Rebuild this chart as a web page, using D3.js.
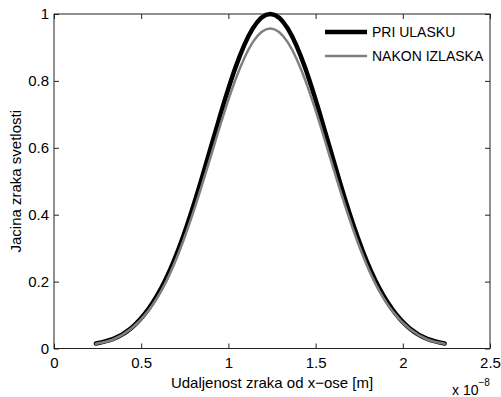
<!DOCTYPE html>
<html>
<head>
<meta charset="utf-8">
<script src="https://cdn.jsdelivr.net/npm/d3@7"></script>
<style>
  body { margin: 0; background: #fff; }
  svg { display: block; font-family: "Liberation Sans", Arial, sans-serif; }
</style>
</head>
<body>
<div id="chart"></div>
<script>
// Data (x in units of 1e-8 m)
const xValues = [0.24, 0.34, 0.44, 0.54, 0.64, 0.74, 0.84, 0.94, 1.04, 1.14, 1.24,
                 1.34, 1.44, 1.54, 1.64, 1.74, 1.84, 1.94, 2.04, 2.14, 2.24];
const entering = [0.015, 0.029, 0.060, 0.117, 0.206, 0.334, 0.496, 0.674, 0.839, 0.957, 1.0,
                  0.957, 0.839, 0.674, 0.496, 0.334, 0.206, 0.117, 0.060, 0.029, 0.015];
const exiting = [0.014, 0.027, 0.058, 0.112, 0.197, 0.320, 0.474, 0.645, 0.803, 0.916, 0.957,
                 0.916, 0.803, 0.645, 0.474, 0.320, 0.197, 0.112, 0.058, 0.027, 0.014];
const seriesNames = ["PRI ULASKU", "NAKON IZLASKA"];
const xTicks = [0, 0.5, 1, 1.5, 2, 2.5];
const yTicks = [0, 0.2, 0.4, 0.6, 0.8, 1];

const W = 501, H = 397;
const margin = { top: 14, right: 11, bottom: 48.5, left: 54 };
const width = W - margin.left - margin.right;
const height = H - margin.top - margin.bottom;

const svg = d3.select("#chart").append("svg")
  .attr("width", W)
  .attr("height", H);

const g = svg.append("g")
  .attr("transform", `translate(${margin.left},${margin.top})`);

const x = d3.scaleLinear().domain([0, 2.5]).range([0, width]);
const y = d3.scaleLinear().domain([0, 1]).range([height, 0]);

// Axes (ticks point inward, box on all sides)
const fmt = d => String(d);
const axisStyle = sel => {
  sel.select(".domain").remove();
  sel.selectAll("line").attr("stroke", "#222");
};

g.append("g")
  .attr("transform", `translate(0,${height})`)
  .call(d3.axisBottom(x).tickValues(xTicks).tickFormat(fmt).tickSizeInner(-5).tickPadding(9))
  .call(axisStyle)
  .selectAll("text").attr("font-size", 15).attr("fill", "#000").attr("font-family", null);

g.append("g")
  .call(d3.axisLeft(y).tickValues(yTicks).tickFormat(fmt).tickSizeInner(-5).tickPadding(5))
  .call(axisStyle)
  .selectAll("text").attr("font-size", 15).attr("fill", "#000").attr("font-family", null);

g.append("g")
  .call(d3.axisTop(x).tickValues(xTicks).tickFormat("").tickSizeInner(-5))
  .call(axisStyle);

g.append("g")
  .attr("transform", `translate(${width},0)`)
  .call(d3.axisRight(y).tickValues(yTicks).tickFormat("").tickSizeInner(-5))
  .call(axisStyle);

g.append("rect")
  .attr("width", width)
  .attr("height", height)
  .attr("fill", "none")
  .attr("stroke", "#222")
  .attr("stroke-width", 1);

// Lines
const line = d3.line()
  .x((d, i) => x(xValues[i]))
  .y(d => y(d))
  .curve(d3.curveNatural);

g.append("path")
  .attr("d", line(entering))
  .attr("fill", "none")
  .attr("stroke", "#000")
  .attr("stroke-width", 4.5)
  .attr("stroke-linecap", "round");

g.append("path")
  .attr("d", line(exiting))
  .attr("fill", "none")
  .attr("stroke", "#808080")
  .attr("stroke-width", 2.5)
  .attr("stroke-linecap", "round");

// Legend
const legend = g.append("g").attr("transform", `translate(${325 - margin.left},${32 - margin.top})`);
[{ c: "#000", w: 4.5 }, { c: "#808080", w: 2.5 }].forEach((s, i) => {
  legend.append("line")
    .attr("x1", 0).attr("x2", 42)
    .attr("y1", i * 24).attr("y2", i * 24)
    .attr("stroke", s.c)
    .attr("stroke-width", s.w);
  legend.append("text")
    .attr("x", 47)
    .attr("y", i * 24)
    .attr("dy", "0.35em")
    .attr("font-size", 14)
    .text(seriesNames[i]);
});

// Axis titles
svg.append("text")
  .attr("x", margin.left + width / 2)
  .attr("y", 388)
  .attr("text-anchor", "middle")
  .attr("font-size", 15)
  .text("Udaljenost zraka od x\u2212ose [m]");

svg.append("text")
  .attr("transform", `translate(21,${margin.top + height / 2}) rotate(-90)`)
  .attr("text-anchor", "middle")
  .attr("font-size", 15)
  .text("Jacina zraka svetlosti");

const expo = svg.append("text")
  .attr("x", 452)
  .attr("y", 395)
  .attr("font-size", 14);
expo.append("tspan").text("x 10");
expo.append("tspan").attr("dy", -9).attr("font-size", 10).text("\u22128");
</script>
</body>
</html>
